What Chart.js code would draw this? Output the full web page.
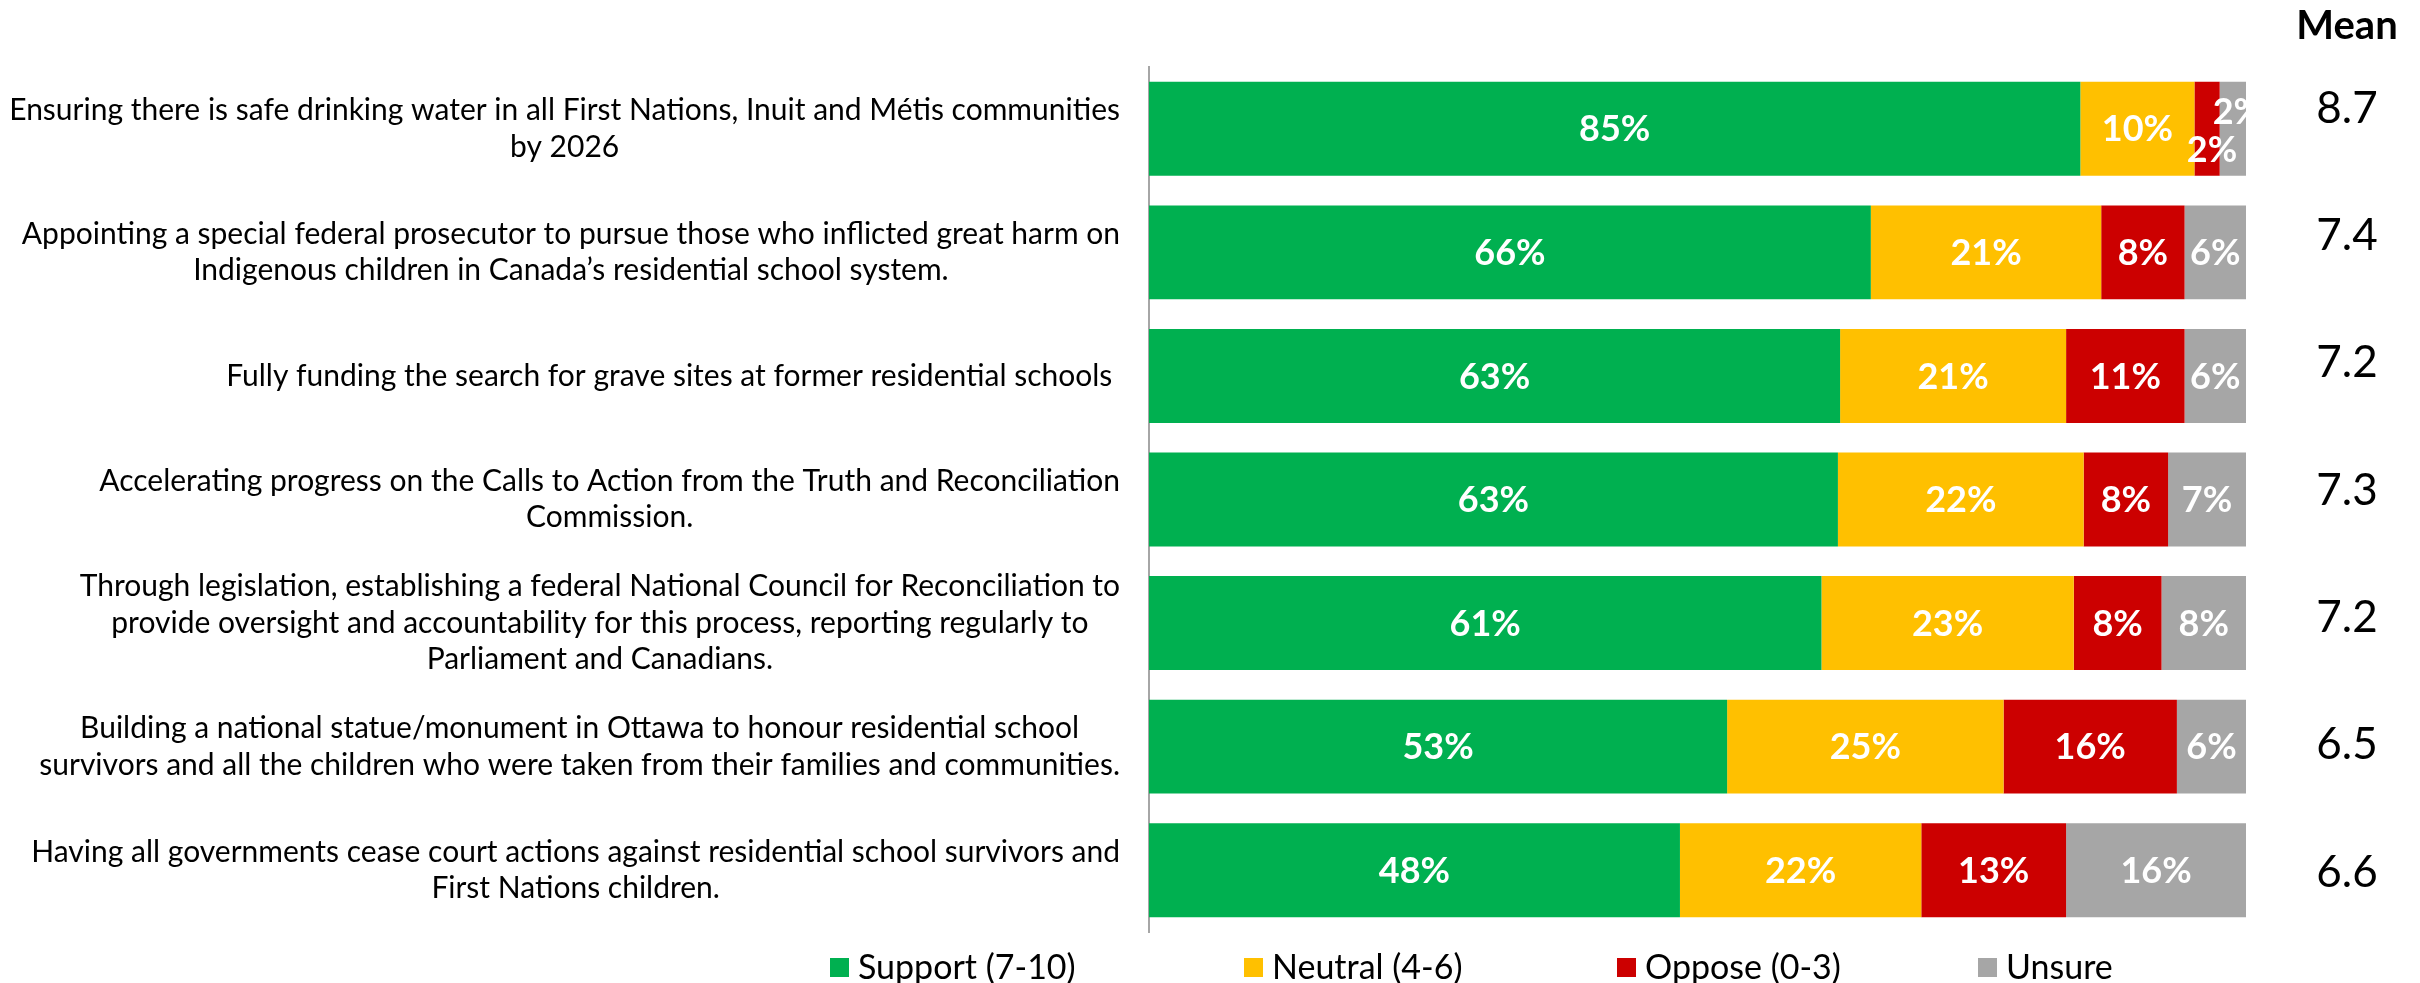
<!DOCTYPE html>
<html>
<head>
<meta charset="utf-8">
<script src="https://cdn.jsdelivr.net/npm/chart.js@4.4.0/dist/chart.umd.min.js"></script>
<style>
  html, body { margin: 0; padding: 0; background: #fff; }
  #wrap { width: 2420px; height: 983px; }
</style>
</head>
<body>
<div id="wrap"><canvas id="chart" width="2420" height="983"></canvas></div>
<script>
const categories = [
    ["Ensuring there is safe drinking water in all First Nations, Inuit and Métis communities", "by 2026"],
    ["Appointing a special federal prosecutor to pursue those who inflicted great harm on", "Indigenous children in Canada’s residential school system."],
    ["Fully funding the search for grave sites at former residential schools "],
    ["Accelerating progress on the Calls to Action from the Truth and Reconciliation", "Commission."],
    ["Through legislation, establishing a federal National Council for Reconciliation to", "provide oversight and accountability for this process, reporting regularly to", "Parliament and Canadians."],
    ["Building a national statue/monument in Ottawa to honour residential school", "survivors and all the children who were taken from their families and communities."],
    ["Having all governments cease court actions against residential school survivors and", "First Nations children."]
];
const seriesNames = ["Support (7-10)", "Neutral (4-6)", "Oppose (0-3)", "Unsure"];
const support = [84.9, 65.8, 63.0, 62.8, 61.3, 52.7, 48.4];
const neutral = [10.4, 21.0, 20.6, 22.4, 23.0, 25.2, 22.0];
const oppose  = [2.3, 7.6, 10.8, 7.7, 8.0, 15.8, 13.2];
const unsure  = [2.4, 5.6, 5.6, 7.1, 7.7, 6.3, 16.4];
const means = ["8.7", "7.4", "7.2", "7.3", "7.2", "6.5", "6.6"];
const colors = ["#00B050", "#FFC000", "#CC0000", "#A6A6A6"];

const FONT = "Lato, 'Open Sans', sans-serif";

// labels on bars, category text, mean column and legend
const extras = {
    id: "extras",
    afterDatasetsDraw(chart) {
        const ctx = chart.ctx;
        const area = chart.chartArea;
        ctx.save();
        ctx.beginPath();
        ctx.rect(area.left, area.top, area.right - area.left, area.bottom - area.top);
        ctx.clip();
        ctx.font = "bold 36px " + FONT;
        ctx.fillStyle = "#fff";
        ctx.textAlign = "center";
        ctx.textBaseline = "middle";
        chart.data.datasets.forEach((ds, di) => {
            chart.getDatasetMeta(di).data.forEach((bar, i) => {
                const txt = Math.round(ds.data[i]) + "%";
                const w = bar.x - bar.base;
                let yOff = 0;
                if (ctx.measureText(txt).width > w) {
                    yOff = di === 3 ? -17 : (di === 2 ? 21 : 0);
                }
                ctx.fillText(txt, (bar.x + bar.base) / 2 + (yOff ? 5 : 0), bar.y + yOff + 1);
            });
        });
        ctx.restore();
    },
    afterDraw(chart) {
        const ctx = chart.ctx;
        const area = chart.chartArea;
        const y = chart.scales.y;
        ctx.save();
        ctx.fillStyle = "#000";
        ctx.textBaseline = "middle";
        ctx.textAlign = "center";

        // category labels: block right aligned, lines centred in block
        ctx.font = "30px " + FONT;
        const lineH = 36.5;
        const labelRight = area.left - 29;
        chart.data.labels.forEach((lines, i) => {
            const yc = y.getPixelForValue(i);
            const maxW = Math.max(...lines.map(l => ctx.measureText(l).width));
            const cx = labelRight - maxW / 2;
            lines.forEach((l, k) => {
                ctx.fillText(l, cx, yc + (k - (lines.length - 1) / 2) * lineH);
            });
        });

        // mean column
        const mx = area.right + 101;
        ctx.font = "bold 40px " + FONT;
        ctx.fillText("Mean", mx, area.top - 41);
        ctx.font = "44px " + FONT;
        const mid = (area.top + area.bottom) / 2;
        means.forEach((m, i) => {
            const yc = y.getPixelForValue(i);
            ctx.fillText(m, mx, mid + (yc - mid) * 1.03 - 9);
        });

        // legend
        const legendX = [830, 1244, 1617, 1978];
        const ly = area.bottom + 35;
        ctx.font = "34px " + FONT;
        ctx.textAlign = "left";
        chart.data.datasets.forEach((ds, di) => {
            ctx.fillStyle = ds.backgroundColor;
            ctx.fillRect(legendX[di], ly - 9, 19, 19);
            ctx.fillStyle = "#000";
            ctx.fillText(ds.label, legendX[di] + 28, ly + 1);
        });
        ctx.restore();
    }
};

new Chart(document.getElementById("chart"), {
    type: "bar",
    data: {
        labels: categories,
        datasets: [
            { label: seriesNames[0], data: support, backgroundColor: colors[0] },
            { label: seriesNames[1], data: neutral, backgroundColor: colors[1] },
            { label: seriesNames[2], data: oppose, backgroundColor: colors[2] },
            { label: seriesNames[3], data: unsure, backgroundColor: colors[3] }
        ]
    },
    options: {
        indexAxis: "y",
        responsive: false,
        animation: false,
        categoryPercentage: 0.76,
        barPercentage: 1,
        layout: { padding: { left: 0, right: 174, top: 67, bottom: 51 } },
        plugins: {
            legend: { display: false },
            title: { display: false },
            tooltip: { enabled: false }
        },
        scales: {
            x: { stacked: true, min: 0, max: 100, display: false },
            y: {
                stacked: true,
                grid: { display: false, drawTicks: false },
                border: { color: "#A6A6A6", width: 2 },
                ticks: { display: false },
                afterFit(scale) { scale.width = 1149; }
            }
        }
    },
    plugins: [extras]
});
</script>
</body>
</html>
